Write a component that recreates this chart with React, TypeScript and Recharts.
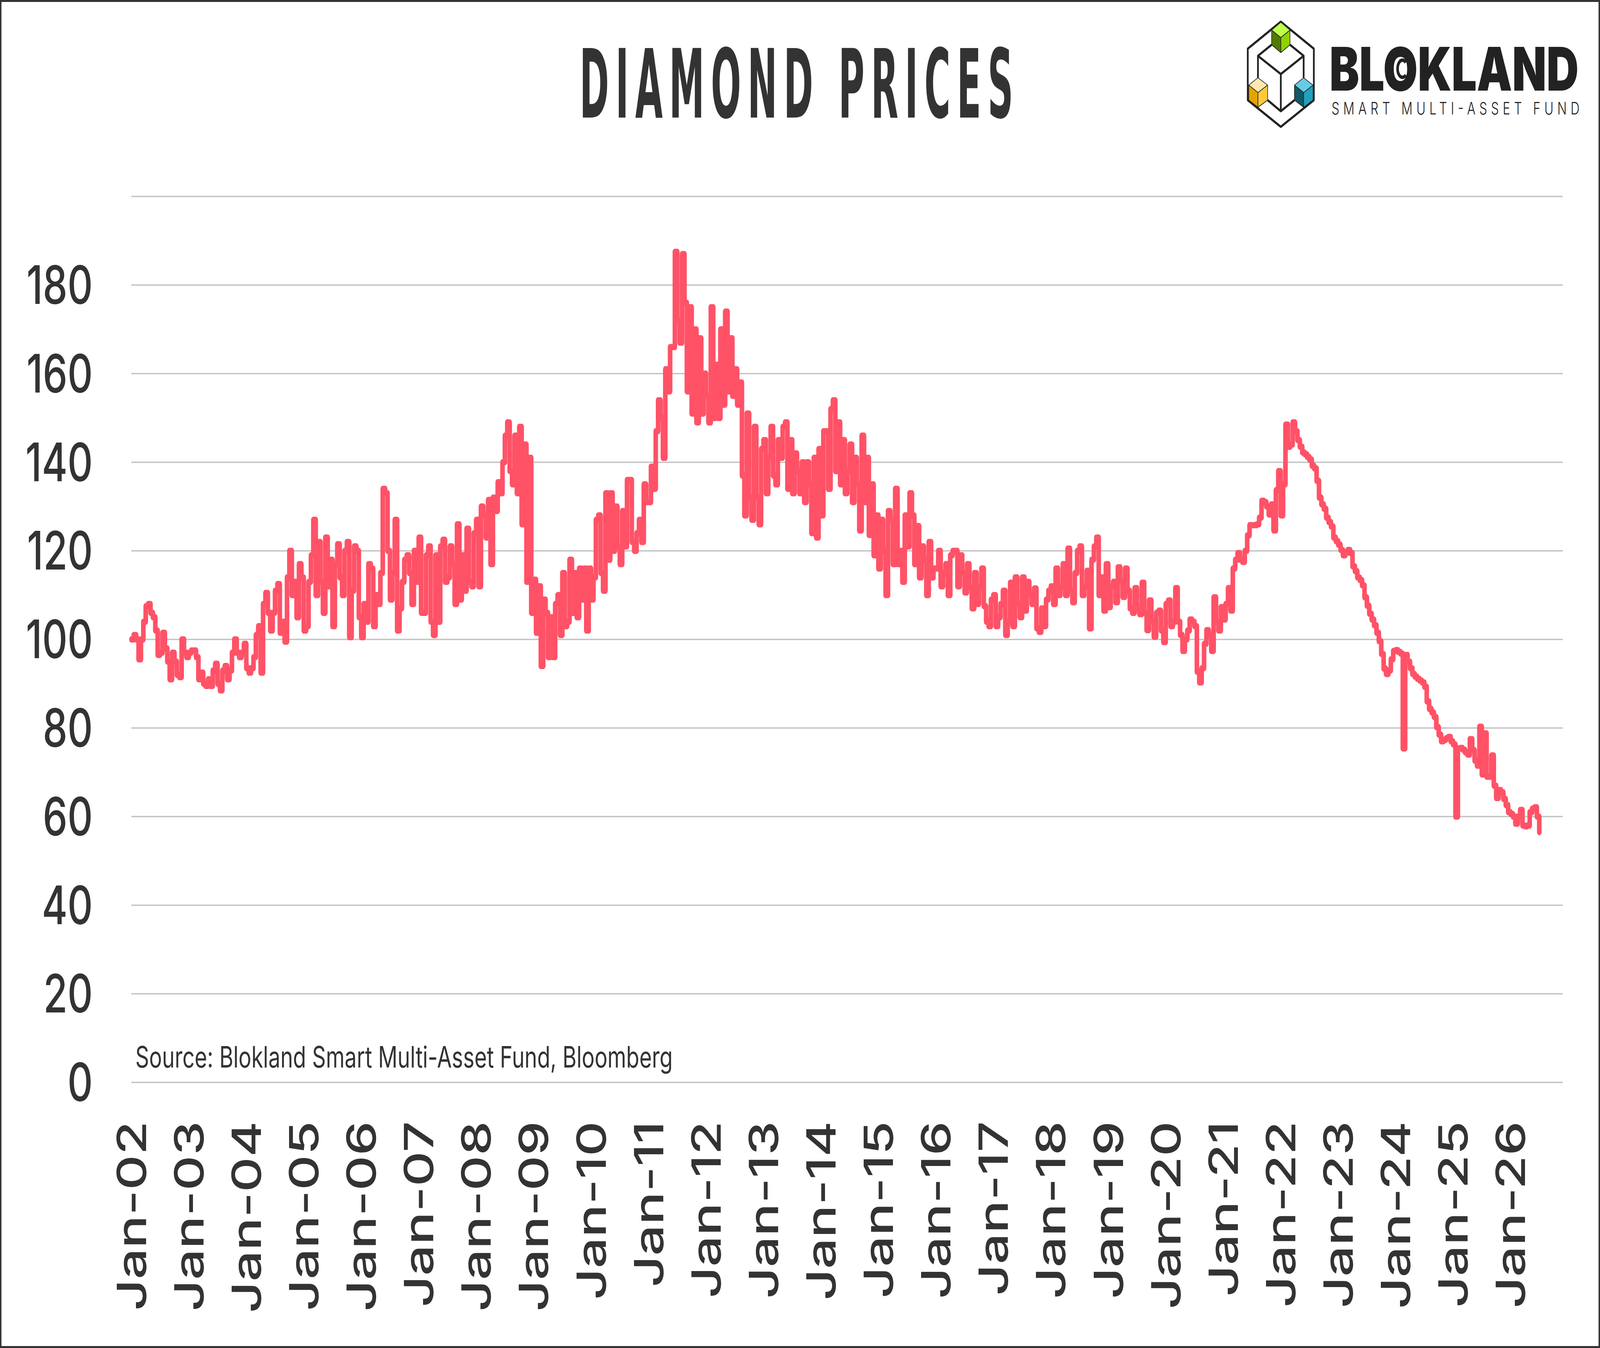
import React from 'react';
import { LineChart, Line, XAxis, YAxis, CartesianGrid } from 'recharts';

// half-monthly readings, 24 per calendar year (2026 is partial)
const years = [2002, 2003, 2004, 2005, 2006, 2007, 2008, 2009, 2010, 2011, 2012, 2013, 2014,
    2015, 2016, 2017, 2018, 2019, 2020, 2021, 2022, 2023, 2024, 2025, 2026];

const v2002 = [100, 101, 100, 95.5, 100, 104, 107.5, 108, 106, 105, 102, 96.5, 97, 101.5, 98, 95, 91, 97, 95, 92, 91.5, 100, 97, 96];
const v2003 = [97, 97.5, 97.5, 96, 91, 92.5, 90, 89.5, 91, 89.5, 93, 94.5, 90, 88.5, 93, 94, 91, 93, 97, 100, 97, 96, 97, 99];
const v2004 = [93.5, 92.5, 93.5, 96, 101, 103, 92.5, 108, 110.5, 106, 102, 106, 111, 112.5, 101.5, 104, 99.5, 114, 120, 110, 113, 105, 117, 114];
const v2005 = [102, 103, 113, 119, 127, 110, 122, 113, 106, 123, 112, 118, 103, 117, 121.5, 114, 110, 120, 122, 100.5, 111, 121, 120, 105];
const v2006 = [100.5, 108, 104, 117, 116, 103, 110, 108, 115, 134, 133, 120, 109, 115, 127, 102, 107, 113, 118, 119, 115, 108, 120, 113];
const v2007 = [123, 106, 106, 119, 121, 104, 101, 119, 104, 121, 122.5, 113, 114, 121, 117, 108, 126, 109, 119, 111, 125, 113, 112, 124];
const v2008 = [127, 112, 130, 128, 123, 131.5, 117, 132, 129, 135.5, 133, 140, 146, 149, 138, 135, 146, 133, 148, 126, 144, 113, 141, 106];
const v2009 = [113.5, 101.5, 112, 94, 109, 106, 96, 105, 96, 108, 110, 101, 115, 103, 104, 118, 106, 115, 105, 116, 109, 116, 102, 116];
const v2010 = [109, 114, 127, 128, 115, 111, 133, 118, 133, 120, 130, 121, 117, 129, 121, 136, 136, 122, 120, 124, 127, 122, 135, 131];
const v2011 = [131, 139, 134, 147, 154, 150, 141, 161, 156, 166, 166, 187.5, 172, 167, 187, 176, 156, 175, 151, 170, 149, 168, 151, 160];
const v2012 = [155, 149, 175, 150, 162, 150, 170, 153, 174, 156, 168, 155, 161, 153, 158, 137, 128, 151, 132, 127, 148, 132, 126, 143];
const v2013 = [145, 133, 141, 148, 137, 135, 145, 141, 148, 149, 134, 145, 133, 142, 138, 133, 140, 131, 140, 135, 124, 141, 123, 143];
const v2014 = [128, 147, 147, 134, 152, 154, 138, 149, 135, 145, 133, 138, 144, 131, 141, 135, 124.6, 146, 131, 141, 123.6, 135, 119, 128];
const v2015 = [116, 127, 120, 110, 129, 127, 117, 134, 117, 120, 113, 128, 121, 133, 128, 117, 125.6, 114, 121, 118, 110, 122, 114, 116];
const v2016 = [116, 120, 112, 115, 117, 110, 119, 120, 120, 112, 119, 115, 110.6, 117, 112, 107, 115, 108, 112, 116, 107.5, 104, 103, 109];
const v2017 = [110, 103, 105, 108, 111, 101, 104, 112.8, 103, 114, 108, 105, 114, 106.5, 113, 110, 108, 111.5, 102.5, 101.7, 107, 103, 109, 111];
const v2018 = [112, 108, 116, 110, 112, 117, 110, 120.5, 111, 108.4, 115, 120, 121, 110, 112, 115.5, 102.5, 118, 121, 123, 110, 114, 106.5, 117];
const v2019 = [107.3, 112, 113, 108.4, 116.3, 113, 109.6, 116, 111, 107, 106, 111.6, 107, 105.7, 112.8, 106, 102.1, 108.8, 104, 100.6, 106, 106.5, 102, 99.4];
const v2020 = [108, 108.8, 103, 104, 111.6, 104, 101, 97.4, 100, 102, 104.5, 104, 103, 92.7, 90.3, 93.5, 99, 102.1, 101, 97.4, 109.5, 104, 102, 107.3];
const v2021 = [104.5, 108, 111.6, 106.5, 116, 118, 119.5, 118, 117.5, 120, 123.5, 125.8, 125.8, 125.8, 126, 127.5, 131.3, 131, 130, 128.2, 130.5, 124.6, 133.7, 138];
const v2022 = [128, 135, 148.5, 143.5, 144, 149, 147, 145, 143.5, 142.2, 141.8, 141.2, 140.6, 139.2, 138.6, 135.8, 132, 130.5, 129.5, 127.5, 126.5, 125.5, 123, 122.2];
const v2023 = [121.4, 120.2, 119, 119.6, 120.2, 119.5, 116.5, 115.4, 114, 113.4, 112.2, 109.5, 107.6, 105.8, 104.5, 103.2, 101.5, 99.6, 96.7, 93.4, 92.2, 93, 95.5, 97.4];
const v2024 = [97.6, 97.2, 96.8, 75.4, 96.5, 95, 93.5, 92.2, 91.6, 91.1, 90.7, 90.3, 89.3, 86, 84.3, 83.5, 82.5, 80.2, 78.5, 77, 77.3, 77.7, 78, 77];
const v2025 = [76.3, 60, 75.4, 75.5, 75.1, 74.5, 74, 77.5, 75, 72.6, 71.5, 80.3, 69.5, 78.8, 69, 69, 73.8, 67, 64.2, 66, 65.5, 64, 62.6, 61];
const v2026 = [60.6, 60, 58.4, 60, 61.5, 58, 57.8, 58, 61, 61.8, 62.1, 60, 56.5];

const yearValues = [v2002, v2003, v2004, v2005, v2006, v2007, v2008, v2009, v2010, v2011, v2012, v2013,
    v2014, v2015, v2016, v2017, v2018, v2019, v2020, v2021, v2022, v2023, v2024, v2025, v2026];

const xTickYears = years;
const yTicks = [0, 20, 40, 60, 80, 100, 120, 140, 160, 180];

const data = years.flatMap((yr, yi) =>
    yearValues[yi].map((v, i) => ({ t: yr + i / 24, price: v }))
);

const W = 5554;
const H = 3451;
const TEXT = '#333333';
const LINE = '#FF5267';

const XTick = (props: any) => {
    const { x, y, payload } = props;
    const label = `Jan-${String(payload.value % 100).padStart(2, '0')}`;
    return (
        <text
            x={0}
            y={0}
            transform={`translate(${x},${y}) rotate(-90)`}
            textAnchor="end"
            dominantBaseline="central"
            fontFamily="Inter"
            fontWeight={500}
            fontSize={140}
            fill={TEXT}
        >
            {label}
        </text>
    );
};

const Logo = () => (
    <svg
        style={{ position: 'absolute', left: 4321, top: 53 }}
        width={250}
        height={275}
        viewBox="140 160 290 825"
        preserveAspectRatio="none"
    >
        <g stroke="#222" strokeWidth={6} strokeLinejoin="round" fill="none">
            <polygon points="285,168 418,375 418,770 285,975 152,770 152,375" vectorEffect="non-scaling-stroke" />
            <polyline points="248,345 193,430 285,570 377,430 322,345" vectorEffect="non-scaling-stroke" />
            <line x1={193} y1={430} x2={193} y2={598} vectorEffect="non-scaling-stroke" />
            <line x1={377} y1={430} x2={377} y2={598} vectorEffect="non-scaling-stroke" />
            <line x1={285} y1={570} x2={285} y2={855} vectorEffect="non-scaling-stroke" />
            <polyline points="232,770 285,855 340,770" vectorEffect="non-scaling-stroke" />
        </g>
        <g stroke="#222" strokeWidth={2} strokeLinejoin="round">
            <polygon points="248,232 285,172 322,232 285,290" fill="#BFFF4A" vectorEffect="non-scaling-stroke" />
            <polygon points="248,232 285,290 285,405 248,345" fill="#527A00" vectorEffect="non-scaling-stroke" />
            <polygon points="285,290 322,232 322,345 285,405" fill="#8ED300" vectorEffect="non-scaling-stroke" />
            <polygon points="156,655 193,598 232,655 193,712" fill="#FFE9B0" vectorEffect="non-scaling-stroke" />
            <polygon points="156,655 193,712 193,825 156,770" fill="#E0A500" vectorEffect="non-scaling-stroke" />
            <polygon points="193,712 232,655 232,770 193,825" fill="#FFCA3A" vectorEffect="non-scaling-stroke" />
            <polygon points="340,655 377,598 415,655 377,712" fill="#66CCE6" vectorEffect="non-scaling-stroke" />
            <polygon points="340,655 377,712 377,825 340,770" fill="#135868" vectorEffect="non-scaling-stroke" />
            <polygon points="377,712 415,655 415,770 377,825" fill="#22A0BD" vectorEffect="non-scaling-stroke" />
        </g>
    </svg>
);

export default function App() {
    // the browser may give a narrower viewport than the 5554px design; fit it
    const sx = typeof window !== 'undefined' ? window.innerWidth / W : 1;
    const sy = typeof window !== 'undefined' ? window.innerHeight / H : 1;

    return (
        <div style={{ position: 'fixed', left: 0, top: 0, width: '100vw', height: '100vh', overflow: 'hidden', background: '#fff' }}>
            <div style={{ position: 'absolute', left: 0, top: 0, width: W, height: H, transform: `scale(${sx}, ${sy})`, transformOrigin: '0 0', background: '#fff' }}>
                <LineChart
                    width={W}
                    height={H}
                    data={data}
                    margin={{ top: 503, right: 129, bottom: 0, left: 0 }}
                >
                    <CartesianGrid vertical={false} stroke="#C4C4C4" strokeWidth={3.5} />
                    <XAxis
                        type="number"
                        dataKey="t"
                        domain={[2002, 2026.91]}
                        ticks={xTickYears}
                        interval={0}
                        height={680}
                        tickSize={0}
                        tickMargin={99}
                        axisLine={false}
                        tickLine={false}
                        tick={<XTick />}
                    />
                    <YAxis
                        domain={[0, 200]}
                        ticks={yTicks}
                        interval={0}
                        width={456}
                        tickSize={0}
                        tickMargin={134}
                        axisLine={false}
                        tickLine={false}
                        tick={{ fontSize: 136, fill: TEXT, fontFamily: 'Inter', fontWeight: 500 }}
                    />
                    <Line
                        type="stepAfter"
                        dataKey="price"
                        stroke={LINE}
                        strokeWidth={16}
                        strokeLinejoin="round"
                        strokeLinecap="round"
                        dot={false}
                        isAnimationActive={false}
                    />
                </LineChart>

                <svg style={{ position: 'absolute', left: 0, top: 0, pointerEvents: 'none' }} width={W} height={H}>
                    <text
                        x={0}
                        y={0}
                        transform="translate(2012,301) scale(0.56,1)"
                        textLength={1505 / 0.56}
                        lengthAdjust="spacing"
                        fontFamily="'DejaVu Sans Condensed', 'DejaVu Sans', sans-serif"
                        fontWeight={700}
                        fontSize={244}
                        fill={TEXT}
                    >
                        DIAMOND PRICES
                    </text>
                    <text
                        x={4615}
                        y={232}
                        textLength={865}
                        lengthAdjust="spacingAndGlyphs"
                        fontFamily="Inter"
                        fontWeight={900}
                        fontSize={154}
                        fill="#222"
                    >
                        BLOKLAND
                    </text>
                    <path d="M 4880 160 A 17 22 0 1 0 4880 192" fill="none" stroke="#222" strokeWidth={9} />
                    <text
                        x={4622}
                        y={293}
                        textLength={861}
                        lengthAdjust="spacing"
                        fontFamily="Inter"
                        fontWeight={300}
                        fontSize={43}
                        fill="#222"
                    >
                        SMART MULTI-ASSET FUND
                    </text>
                    <text
                        x={470}
                        y={2733}
                        textLength={1865}
                        lengthAdjust="spacingAndGlyphs"
                        fontFamily="Inter"
                        fontWeight={400}
                        fontSize={75}
                        fill={TEXT}
                    >
                        Source: Blokland Smart Multi-Asset Fund, Bloomberg
                    </text>
                </svg>

                <Logo />

                <div style={{ position: 'absolute', left: 0, top: 0, width: W, height: H, boxSizing: 'border-box', border: '5px solid #333', pointerEvents: 'none' }} />
            </div>
        </div>
    );
}
